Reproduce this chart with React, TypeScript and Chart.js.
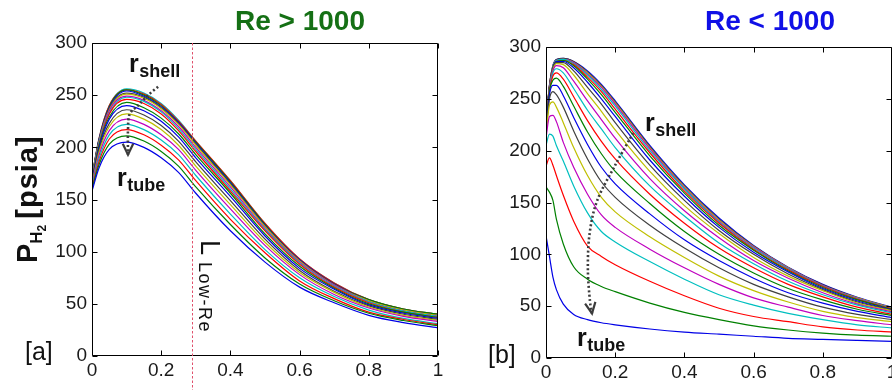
import React, { useEffect, useRef } from "react";
import { Chart, registerables } from "chart.js";

Chart.register(...registerables);

// ---------- axes ----------
const X_MIN = 0;
const X_MAX = 1;
const X_STEP = 0.2;
const Y_MIN = 0;
const Y_MAX = 300;
const Y_STEP = 50;

// ---------- titles / labels ----------
const LEFT_TITLE = "Re > 1000";
const RIGHT_TITLE = "Re < 1000";
const LEFT_TAG = "[a]";
const RIGHT_TAG = "[b]";

// MATLAB default colour order (b, g, r, c, m, y, k)
const LINE_COLORS = ["#0000e6", "#008000", "#ff0000", "#00bfbf", "#bf00bf", "#bfbf00", "#404040"];

// ---------- panel [a] : Re > 1000 ----------
const LEFT_X = [0, 0.02, 0.05, 0.1, 0.15, 0.2, 0.25, 0.3, 0.4, 0.5, 0.6, 0.7, 0.8, 0.9, 1.0];
const LEFT_P = [
  [158, 180, 198, 205, 200, 190, 176, 156, 120, 90, 66, 51, 39, 32, 27],
  [160, 183, 203, 211, 206, 196, 182, 162, 126, 94, 69, 53, 41, 34, 29],
  [161, 186, 208, 217, 212, 202, 188, 168, 131, 99, 72, 55, 42, 35, 30],
  [163, 189, 212, 222, 217, 207, 193, 173, 136, 102, 75, 57, 44, 36, 31],
  [164, 192, 216, 227, 222, 212, 198, 178, 141, 106, 78, 59, 46, 38, 33],
  [165, 195, 220, 232, 227, 217, 202, 182, 145, 109, 80, 61, 47, 39, 34],
  [166, 197, 223, 236, 231, 221, 206, 186, 149, 112, 82, 62, 48, 40, 35],
  [168, 199, 227, 240, 235, 225, 210, 190, 153, 115, 84, 64, 49, 41, 36],
  [168, 201, 229, 243, 238, 228, 213, 193, 156, 117, 86, 65, 50, 42, 37],
  [169, 202, 232, 246, 242, 232, 216, 196, 158, 120, 88, 66, 51, 42, 37],
  [170, 204, 233, 248, 244, 234, 218, 198, 160, 121, 89, 67, 52, 43, 38],
  [170, 204, 235, 249, 245, 235, 220, 200, 162, 122, 90, 68, 52, 43, 38],
  [171, 205, 236, 251, 247, 237, 222, 202, 164, 124, 91, 68, 53, 44, 39],
  [171, 206, 237, 252, 248, 238, 223, 203, 165, 124, 91, 69, 53, 44, 39],
  [171, 207, 238, 254, 249, 239, 224, 204, 166, 125, 92, 69, 53, 44, 39],
  [172, 207, 239, 255, 250, 240, 224, 205, 167, 126, 92, 69, 54, 45, 40],
  [172, 208, 240, 255, 251, 241, 225, 206, 168, 127, 93, 70, 54, 45, 40],
  [172, 208, 240, 256, 252, 242, 226, 206, 168, 127, 93, 70, 54, 45, 40],
];
const L_LOW_RE = 0.29;
const LEFT_ARROW = [
  [0.191, 258],
  [0.162, 250],
  [0.133, 240],
  [0.109, 232],
  [0.104, 217],
  [0.104, 193],
];

// ---------- panel [b] : Re < 1000 ----------
const RIGHT_X = [0, 0.01, 0.02, 0.03, 0.05, 0.08, 0.12, 0.16, 0.2, 0.3, 0.4, 0.5, 0.6, 0.7, 0.8, 0.9, 1.0];
const RIGHT_P = [
  [118, 98, 78, 66, 52, 42, 37, 34, 32, 28, 25, 23, 21, 19, 18, 17, 16],
  [165, 160, 152, 134, 110, 88, 76, 69, 64, 53, 44, 37, 31, 27, 24, 22, 21],
  [185, 193, 186, 176, 157, 132, 108, 98, 90, 74, 60, 48, 40, 35, 30, 27, 25],
  [205, 216, 214, 205, 190, 166, 140, 122, 112, 93, 76, 61, 51, 43, 37, 32, 29],
  [212, 233, 234, 228, 208, 184, 158, 138, 126, 105, 87, 71, 58, 49, 41, 36, 32],
  [215, 244, 247, 242, 227, 203, 176, 155, 141, 117, 97, 79, 65, 54, 45, 39, 35],
  [218, 250, 257, 254, 242, 219, 192, 170, 155, 128, 106, 87, 71, 59, 49, 42, 37],
  [220, 254, 263, 263, 253, 232, 206, 184, 168, 139, 114, 94, 77, 63, 53, 45, 39],
  [221, 257, 268, 270, 262, 243, 218, 197, 180, 149, 122, 100, 82, 67, 56, 47, 41],
  [222, 258, 272, 275, 269, 252, 229, 209, 192, 158, 130, 106, 87, 71, 59, 49, 42],
  [222, 259, 275, 279, 275, 260, 239, 221, 203, 166, 137, 111, 91, 74, 61, 51, 43.5],
  [223, 260, 277, 282, 280, 267, 248, 230, 212, 173, 142, 116, 94, 77, 63, 52, 44.5],
  [223, 260, 278, 284, 283, 273, 255, 238, 220, 180, 147, 120, 97, 79, 65, 53, 45.5],
  [224, 261, 279, 285, 285, 277, 261, 245, 227, 186, 152, 123, 100, 81, 66, 54, 46],
  [224, 261, 279, 286, 286, 280, 266, 250, 233, 191, 156, 126, 102, 83, 67, 55, 46.5],
  [224, 261, 280, 286, 287, 282, 269, 254, 237, 195, 159, 128, 104, 84, 68, 56, 47],
  [225, 262, 280, 286, 287, 283, 271, 257, 240, 198, 161, 130, 105, 85, 69, 56.5, 47.5],
  [225, 262, 281, 287, 288, 284, 273, 259, 243, 200, 163, 131, 106, 86, 69.5, 57, 48],
  [225, 262, 281, 287, 288, 285, 274, 261, 245, 202, 164, 132, 107, 86.5, 70, 57.5, 48],
  [226, 263, 281, 287, 288, 285, 275, 262, 246, 203, 165, 133, 107.5, 87, 70, 58, 48.5],
  [226, 263, 282, 288, 289, 286, 276, 263, 247, 204, 166, 134, 108, 87, 70.5, 58, 48.5],
  [226, 263, 282, 288, 289, 286, 277, 264, 248, 205, 167, 135, 108.5, 87.5, 71, 58.5, 49],
];
const RIGHT_ARROW = [
  [0.252, 217],
  [0.2, 186],
  [0.148, 152],
  [0.126, 120],
  [0.121, 86],
  [0.127, 55],
  [0.133, 43],
];

const FONT = '"Liberation Sans", Arial, Helvetica, sans-serif';

function drawDottedArrow(chart: any, pts: number[][]) {
  const { ctx, scales } = chart;
  const p = pts.map(([a, b]) => [scales.x.getPixelForValue(a), scales.y.getPixelForValue(b)]);
  ctx.save();
  ctx.strokeStyle = "#3c3c3c";
  ctx.lineWidth = 2.6;
  ctx.setLineDash([2, 2.4]);
  ctx.beginPath();
  ctx.moveTo(p[0][0], p[0][1]);
  for (let i = 0; i < p.length - 1; i++) {
    const p0 = p[Math.max(i - 1, 0)];
    const p1 = p[i];
    const p2 = p[i + 1];
    const p3 = p[Math.min(i + 2, p.length - 1)];
    const c1x = p1[0] + (p2[0] - p0[0]) / 6;
    const c1y = p1[1] + (p2[1] - p0[1]) / 6;
    const c2x = p2[0] - (p3[0] - p1[0]) / 6;
    const c2y = p2[1] - (p3[1] - p1[1]) / 6;
    ctx.bezierCurveTo(c1x, c1y, c2x, c2y, p2[0], p2[1]);
  }
  ctx.stroke();
  const tip = p[p.length - 1];
  const prev = p[p.length - 2];
  const ang = Math.atan2(tip[1] - prev[1], tip[0] - prev[0]);
  const len = 12;
  ctx.setLineDash([]);
  ctx.lineWidth = 2.2;
  ctx.beginPath();
  ctx.moveTo(tip[0] - len * Math.cos(ang - 0.45), tip[1] - len * Math.sin(ang - 0.45));
  ctx.lineTo(tip[0], tip[1]);
  ctx.lineTo(tip[0] - len * Math.cos(ang + 0.45), tip[1] - len * Math.sin(ang + 0.45));
  ctx.stroke();
  ctx.restore();
}

function drawSubLabel(ctx: any, x: number, y: number, main: string, sub: string) {
  ctx.save();
  ctx.fillStyle = "#111";
  ctx.textBaseline = "alphabetic";
  ctx.textAlign = "left";
  ctx.font = `bold 25px ${FONT}`;
  ctx.fillText(main, x, y);
  const w = ctx.measureText(main).width;
  ctx.font = `bold 18px ${FONT}`;
  ctx.fillText(sub, x + w + 0.5, y + 5);
  ctx.restore();
}

function makePlugin(panel: "a" | "b") {
  return {
    id: "annot_" + panel,
    afterDraw(chart: any) {
      const { ctx, chartArea: ca, scales } = chart;
      const xs = scales.x;
      const ys = scales.y;
      ctx.save();
      ctx.strokeStyle = "#000";
      ctx.lineWidth = 1;
      ctx.setLineDash([]);
      const L = Math.round(ca.left) + 0.5;
      const R = Math.round(ca.right) - 0.5;
      const T = Math.round(ca.top) + 0.5;
      const B = Math.round(ca.bottom) - 0.5;
      ctx.beginPath();
      ctx.rect(L, T, R - L, B - T);
      xs.ticks.forEach((t: any) => {
        const px = Math.round(xs.getPixelForValue(t.value)) + 0.5;
        ctx.moveTo(px, B);
        ctx.lineTo(px, B - 5);
        ctx.moveTo(px, T);
        ctx.lineTo(px, T + 5);
      });
      ys.ticks.forEach((t: any) => {
        const py = Math.round(ys.getPixelForValue(t.value)) + 0.5;
        ctx.moveTo(L, py);
        ctx.lineTo(L + 5, py);
        ctx.moveTo(R, py);
        ctx.lineTo(R - 5, py);
      });
      ctx.stroke();
      ctx.restore();

      if (panel === "a") {
        const px = Math.round(xs.getPixelForValue(L_LOW_RE)) + 0.5;
        ctx.save();
        ctx.strokeStyle = "#e0506c";
        ctx.lineWidth = 1;
        ctx.setLineDash([2.5, 2]);
        ctx.beginPath();
        ctx.moveTo(px, ca.top);
        ctx.lineTo(px, chart.height);
        ctx.stroke();
        ctx.restore();

        ctx.save();
        ctx.translate(px + 8, 240);
        ctx.rotate(Math.PI / 2);
        ctx.fillStyle = "#111";
        ctx.textBaseline = "alphabetic";
        ctx.font = `27px ${FONT}`;
        ctx.fillText("L", 0, 0);
        const wL = ctx.measureText("L").width;
        ctx.font = `18px ${FONT}`;
        (ctx as any).letterSpacing = "1.5px";
        ctx.fillText("Low-Re", wL + 7, 2);
        ctx.restore();

        drawDottedArrow(chart, LEFT_ARROW);
        drawSubLabel(ctx, 129, 72, "r", "shell");
        drawSubLabel(ctx, 117, 186, "r", "tube");

        ctx.save();
        ctx.font = `bold 28px ${FONT}`;
        ctx.fillStyle = "#157015";
        ctx.textAlign = "center";
        ctx.fillText(LEFT_TITLE, 300, 30);
        ctx.restore();

        ctx.save();
        ctx.translate(37, 263);
        ctx.rotate(-Math.PI / 2);
        ctx.fillStyle = "#111";
        ctx.textBaseline = "alphabetic";
        let cx = 0;
        ctx.font = `bold 29px ${FONT}`;
        ctx.fillText("P", cx, 0);
        cx += ctx.measureText("P").width;
        ctx.font = `bold 17px ${FONT}`;
        ctx.fillText("H", cx, 5);
        cx += ctx.measureText("H").width;
        ctx.font = `bold 12px ${FONT}`;
        ctx.fillText("2", cx, 9);
        cx += ctx.measureText("2").width + 6;
        ctx.font = `bold 29px ${FONT}`;
        (ctx as any).letterSpacing = "1px";
        ctx.fillText("[psia]", cx, 0);
        ctx.restore();

        ctx.save();
        ctx.font = `25px ${FONT}`;
        ctx.fillStyle = "#111";
        ctx.fillText(LEFT_TAG, 25, 360);
        ctx.restore();
      } else {
        drawDottedArrow(chart, RIGHT_ARROW);
        drawSubLabel(ctx, 199, 131, "r", "shell");
        drawSubLabel(ctx, 131, 346, "r", "tube");

        ctx.save();
        ctx.font = `bold 28px ${FONT}`;
        ctx.fillStyle = "#1010e6";
        ctx.textAlign = "center";
        ctx.fillText(RIGHT_TITLE, 324, 30);
        ctx.restore();

        ctx.save();
        ctx.font = `25px ${FONT}`;
        ctx.fillStyle = "#111";
        ctx.fillText(RIGHT_TAG, 42, 363);
        ctx.restore();
      }
    },
  };
}

const fmtTick = (v: any) => String(Number(Number(v).toFixed(2)));

function makeConfig(
  xs: number[],
  series: number[][],
  panel: "a" | "b",
  geom: { padTop: number; padRight: number; yWidth: number; xHeight: number }
): any {
  const datasets = series.map((ys, i) => ({
    data: xs.map((x, j) => ({ x, y: ys[j] })),
    borderColor: LINE_COLORS[i % LINE_COLORS.length],
    borderWidth: 1.2,
    pointRadius: 0,
    fill: false,
    cubicInterpolationMode: "monotone",
  }));
  return {
    type: "line",
    data: { datasets },
    plugins: [makePlugin(panel)],
    options: {
      animation: false,
      responsive: false,
      devicePixelRatio: 1,
      events: [],
      layout: { padding: { top: geom.padTop, right: geom.padRight, left: 0, bottom: 0 } },
      plugins: { legend: { display: false }, tooltip: { enabled: false }, title: { display: false } },
      scales: {
        x: {
          type: "linear",
          min: X_MIN,
          max: X_MAX,
          grid: { display: false, drawTicks: false },
          border: { display: false },
          ticks: {
            stepSize: X_STEP,
            padding: 3,
            color: "#1a1a1a",
            maxRotation: 0,
            font: { family: FONT, size: 19 },
            callback: fmtTick,
          },
          afterFit: (s: any) => {
            s.height = geom.xHeight;
            s.paddingLeft = 0;
            s.paddingRight = 0;
          },
        },
        y: {
          type: "linear",
          min: Y_MIN,
          max: Y_MAX,
          grid: { display: false, drawTicks: false },
          border: { display: false },
          ticks: {
            stepSize: Y_STEP,
            padding: 5,
            color: "#1a1a1a",
            font: { family: FONT, size: 19 },
            callback: fmtTick,
          },
          afterFit: (s: any) => {
            s.width = geom.yWidth;
            s.paddingTop = 0;
            s.paddingBottom = 0;
          },
        },
      },
    },
  };
}

export default function App() {
  const leftRef = useRef<HTMLCanvasElement>(null);
  const rightRef = useRef<HTMLCanvasElement>(null);

  useEffect(() => {
    const c1 = new Chart(
      leftRef.current as HTMLCanvasElement,
      makeConfig(LEFT_X, LEFT_P, "a", { padTop: 43, padRight: 8, yWidth: 92, xHeight: 34 })
    );
    const c2 = new Chart(
      rightRef.current as HTMLCanvasElement,
      makeConfig(RIGHT_X, RIGHT_P, "b", { padTop: 47, padRight: 0, yWidth: 100, xHeight: 32 })
    );
    return () => {
      c1.destroy();
      c2.destroy();
    };
  }, []);

  return (
    <div
      style={{
        position: "fixed",
        left: 0,
        top: 0,
        width: 892,
        height: 390,
        background: "#fff",
        overflow: "hidden",
      }}
    >
      <canvas
        ref={leftRef}
        width={446}
        height={390}
        style={{ position: "absolute", left: 0, top: 0, width: 446, height: 390 }}
      />
      <canvas
        ref={rightRef}
        width={446}
        height={390}
        style={{ position: "absolute", left: 446, top: 0, width: 446, height: 390 }}
      />
    </div>
  );
}
